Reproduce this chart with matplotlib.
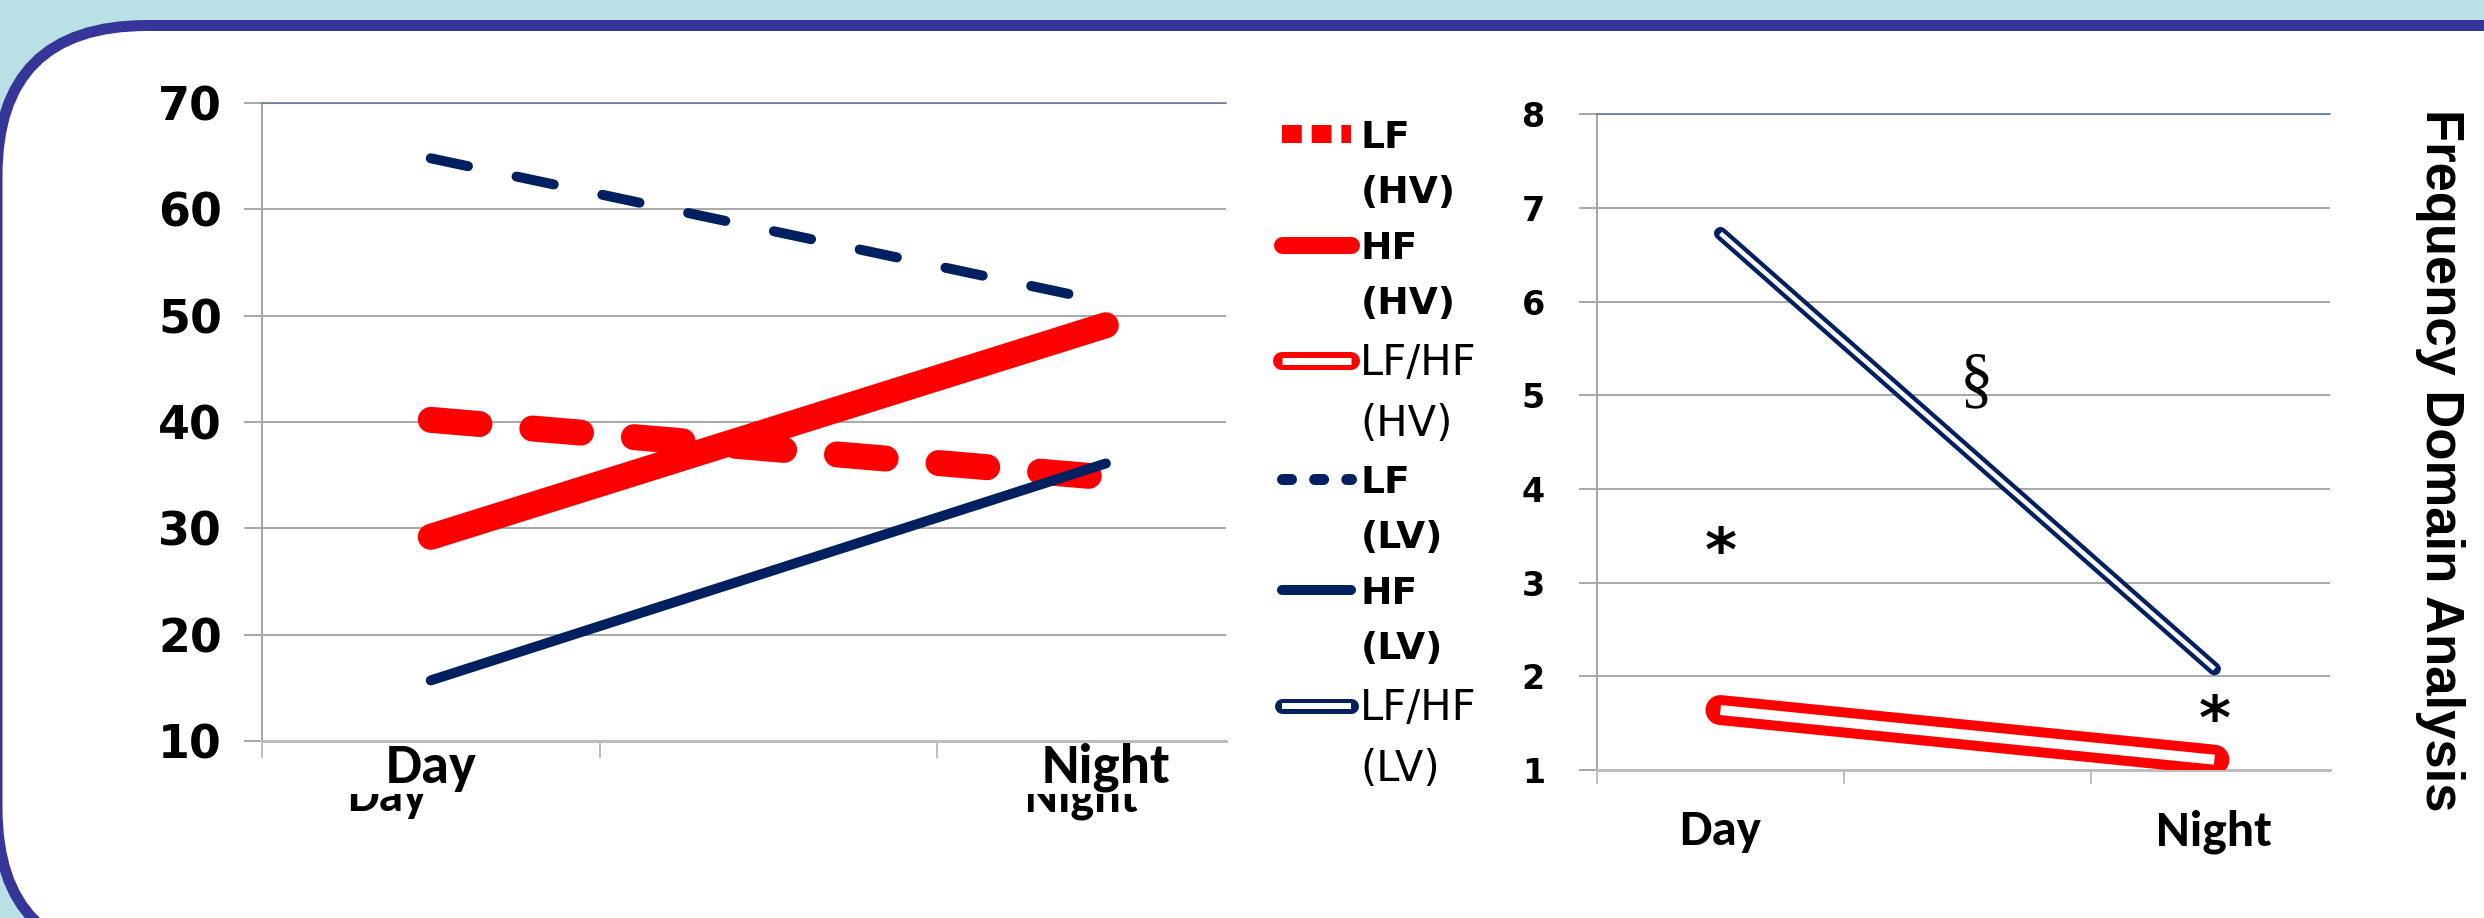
import numpy as np
import matplotlib
matplotlib.use("Agg")
import matplotlib.pyplot as plt
from matplotlib.lines import Line2D
from matplotlib.patches import FancyBboxPatch
from matplotlib.transforms import Bbox, TransformedBbox
from matplotlib.legend_handler import HandlerTuple
from matplotlib import font_manager

# ---------------- data ----------------
categories = ["Day", "", "Night"]
left_ticks = [10, 20, 30, 40, 50, 60, 70]
right_ticks = [1, 2, 3, 4, 5, 6, 7, 8]

lf_hv = [40.2, np.nan, 34.8]
hf_hv = [29.2, np.nan, 49.1]
lf_lv = [64.8, np.nan, 51.3]
hf_lv = [15.7, np.nan, 36.1]

lfhf_hv = [1.64, np.nan, 1.11]
lfhf_lv = [6.73, np.nan, 2.08]

star_marks = ["*", "", "*"]
star_values = [3.48, np.nan, 1.69]
section_marks = ["", "§", ""]
section_values = [np.nan, 5.13, np.nan]

legend_labels = ["LF", "(HV)", "HF", "(HV)", "LF/HF", "(HV)",
                 "LF", "(LV)", "HF", "(LV)", "LF/HF", "(LV)"]
legend_weights = ["bold", "bold", "bold", "bold", "normal", "normal",
                  "bold", "bold", "bold", "bold", "normal", "normal"]
title_text = "Frequency Domain Analysis"

# ---------------- style ----------------
W, H, DPI = 2484, 918, 100
RED = "#FF0000"
NAVY = "#002060"
GRID = "#8F8F8F"


def pt(px):
    return px * 72.0 / DPI


names = {f.name for f in font_manager.fontManager.ttflist}


def pick(*cands):
    for c in cands:
        if c in names:
            return c
    return "DejaVu Sans"


NUM_FONT = "DejaVu Sans"
CAT_FONT = pick("Carlito", "Open Sans", "Lato")
TITLE_FONT = pick("Liberation Sans Narrow", "Liberation Sans", "Roboto")
SERIF = pick("Liberation Serif", "DejaVu Serif")

fig = plt.figure(figsize=(W / DPI, H / DPI), dpi=DPI, facecolor="#B9E0E4")

# white rounded panel with dark blue border
panel = FancyBboxPatch((-3 / DPI, -40 / DPI), 2700 / DPI, (H - 25.5 + 40) / DPI,
                       boxstyle="round,pad=0,rounding_size=1.5",
                       transform=fig.dpi_scale_trans, facecolor="white",
                       edgecolor="#35359A", linewidth=pt(11), zorder=-10)
fig.add_artist(panel)


def frac_rect(l, t, r, b):
    return [l / W, (H - b) / H, (r - l) / W, (b - t) / H]


axL = fig.add_axes(frac_rect(262, 103, 1226, 741))
axR = fig.add_axes(frac_rect(1597, 114.5, 2330, 770))


def style_axes(ax, yticks, xmax, ylab_size, ylab_pad, xlab_size, xlab_pad, xtick_len):
    ax.set_facecolor("none")
    x = np.arange(len(categories))
    ax.set_xlim(-0.5, xmax)
    ax.set_ylim(min(yticks), max(yticks))
    ax.set_yticks(yticks)
    ax.set_yticklabels([str(v) for v in yticks], fontfamily=NUM_FONT,
                       fontweight="bold", fontsize=ylab_size)
    ax.tick_params(axis="y", direction="out", length=pt(18), width=pt(1.5),
                   color=GRID, pad=ylab_pad)
    ax.set_xticks(x - 0.5)
    ax.set_xticklabels([])
    ax.tick_params(axis="x", which="major", direction="out", length=pt(xtick_len),
                   width=pt(2), color="#BEBEBE")
    ax.set_xticks(x, minor=True)
    ax.set_xticklabels(categories, minor=True, fontfamily=CAT_FONT,
                       fontweight="bold", fontsize=xlab_size)
    ax.tick_params(axis="x", which="minor", length=0, pad=xlab_pad)
    ax.grid(axis="y", color=GRID, linewidth=pt(1.5))
    ax.set_axisbelow(True)
    ax.spines["right"].set_visible(False)
    ax.spines["left"].set_color("#A6A6A6")
    ax.spines["left"].set_linewidth(pt(2))
    ax.spines["bottom"].set_color("#BEBEBE")
    ax.spines["bottom"].set_linewidth(pt(3))
    ax.spines["top"].set_color("#5B6FA5")
    ax.spines["top"].set_linewidth(pt(1.5))


style_axes(axL, left_ticks, 2.356, 33, pt(22), 41, pt(2), 17)
style_axes(axR, right_ticks, 2.468, 24, pt(34), 37, pt(39), 14)


def xy_of(values):
    x = np.arange(len(categories))
    y = np.asarray(values, dtype=float)
    m = ~np.isnan(y)
    return x[m], y[m]


def draw_series(ax, values, color, lw_px, dashes=None):
    x, y = xy_of(values)
    ls = "-" if dashes is None else (0, dashes)
    ax.plot(x, y, color=color, lw=pt(lw_px), linestyle=ls,
            solid_capstyle="round", dash_capstyle="round", zorder=3)


def draw_double(ax, values, color, outer_px, inner_px):
    x, y = xy_of(values)
    ax.plot(x, y, color=color, lw=pt(outer_px), solid_capstyle="round", zorder=3)
    ax.plot(x, y, color="white", lw=pt(inner_px), solid_capstyle="butt", zorder=3.1)


draw_series(axL, lf_hv, RED, 26, (1.88, 2.04))
draw_series(axL, hf_hv, RED, 26)
draw_series(axL, lf_lv, NAVY, 10, (3.8, 4.97))
draw_series(axL, hf_lv, NAVY, 10)

draw_double(axR, lfhf_hv, RED, 30, 10)
draw_double(axR, lfhf_lv, NAVY, 13, 4.5)

# significance marks
star_size = 44
for xi, (s, v) in enumerate(zip(star_marks, star_values)):
    if s:
        axR.annotate(s, xy=(xi, v), xytext=(0, -0.545 * star_size * DPI / 72),
                     textcoords="offset pixels", ha="center", va="baseline",
                     fontsize=star_size, fontweight="bold", fontfamily=NUM_FONT)
for xi, (s, v) in enumerate(zip(section_marks, section_values)):
    if s:
        axR.annotate(s, xy=(xi, v), xytext=(9, 0), textcoords="offset pixels",
                     ha="center", va="center", fontsize=48, fontfamily=SERIF)

# partially hidden duplicate category labels under the left chart
ghost_dx = [-44, 0, -24]
clip_bb = TransformedBbox(Bbox([[0, 0], [W / DPI, (H - 794) / DPI]]), fig.dpi_scale_trans)
for xi, (lab, dx) in enumerate(zip(categories, ghost_dx)):
    if lab:
        t = axL.annotate(lab, xy=(xi, H - 811), xycoords=("data", "figure pixels"),
                         xytext=(dx, 0), textcoords="offset pixels",
                         ha="center", va="baseline", fontsize=36,
                         fontweight="bold", fontfamily=CAT_FONT)
        t.set_clip_box(clip_bb)
        t.set_clip_on(True)

# legend (each label split over two rows; sample on the first row)
blank = Line2D([], [], color="none", lw=0)
h_lf_hv = Line2D([], [], color=RED, lw=pt(18), linestyle=(0, (1.1, 0.55)),
                 dash_capstyle="butt")
h_hf_hv = Line2D([], [], color=RED, lw=pt(17), solid_capstyle="round")
h_r_hv = (Line2D([], [], color=RED, lw=pt(18), solid_capstyle="round"),
          Line2D([], [], color="white", lw=pt(7), solid_capstyle="butt"))
h_lf_lv = Line2D([], [], color=NAVY, lw=pt(11), linestyle=(0, (0.82, 2.1)),
                 dash_capstyle="round")
h_hf_lv = Line2D([], [], color=NAVY, lw=pt(10), solid_capstyle="round")
h_r_lv = (Line2D([], [], color=NAVY, lw=pt(15), solid_capstyle="round"),
          Line2D([], [], color="white", lw=pt(6), solid_capstyle="butt"))
handles = [h_lf_hv, blank, h_hf_hv, blank, h_r_hv, blank,
           h_lf_lv, blank, h_hf_lv, blank, h_r_lv, blank]

leg = fig.legend(handles, legend_labels, loc="upper left",
                 bbox_to_anchor=(1281.5 / W, (H - 119.6) / H),
                 bbox_transform=fig.transFigure, frameon=False,
                 borderpad=0, borderaxespad=0,
                 labelspacing=0.52, handlelength=1.85, handletextpad=0.25,
                 handleheight=0.7, prop={"family": NUM_FONT, "size": 27},
                 handler_map={tuple: HandlerTuple(ndivide=1, pad=0)})
for t, w in zip(leg.get_texts(), legend_weights):
    t.set_fontweight(w)
    if w == "normal":
        t.set_fontsize(30)

# rotated title on the right
title = fig.text(2440 / W, 1 - 460 / H, title_text, rotation=270, ha="center",
                 va="center", fontfamily=TITLE_FONT, fontweight="bold", fontsize=40)
fig.canvas.draw()
bb = title.get_window_extent()
title.set_fontsize(40 * 703.0 / bb.height)

fig.savefig("out.png", dpi=DPI, facecolor=fig.get_facecolor())
